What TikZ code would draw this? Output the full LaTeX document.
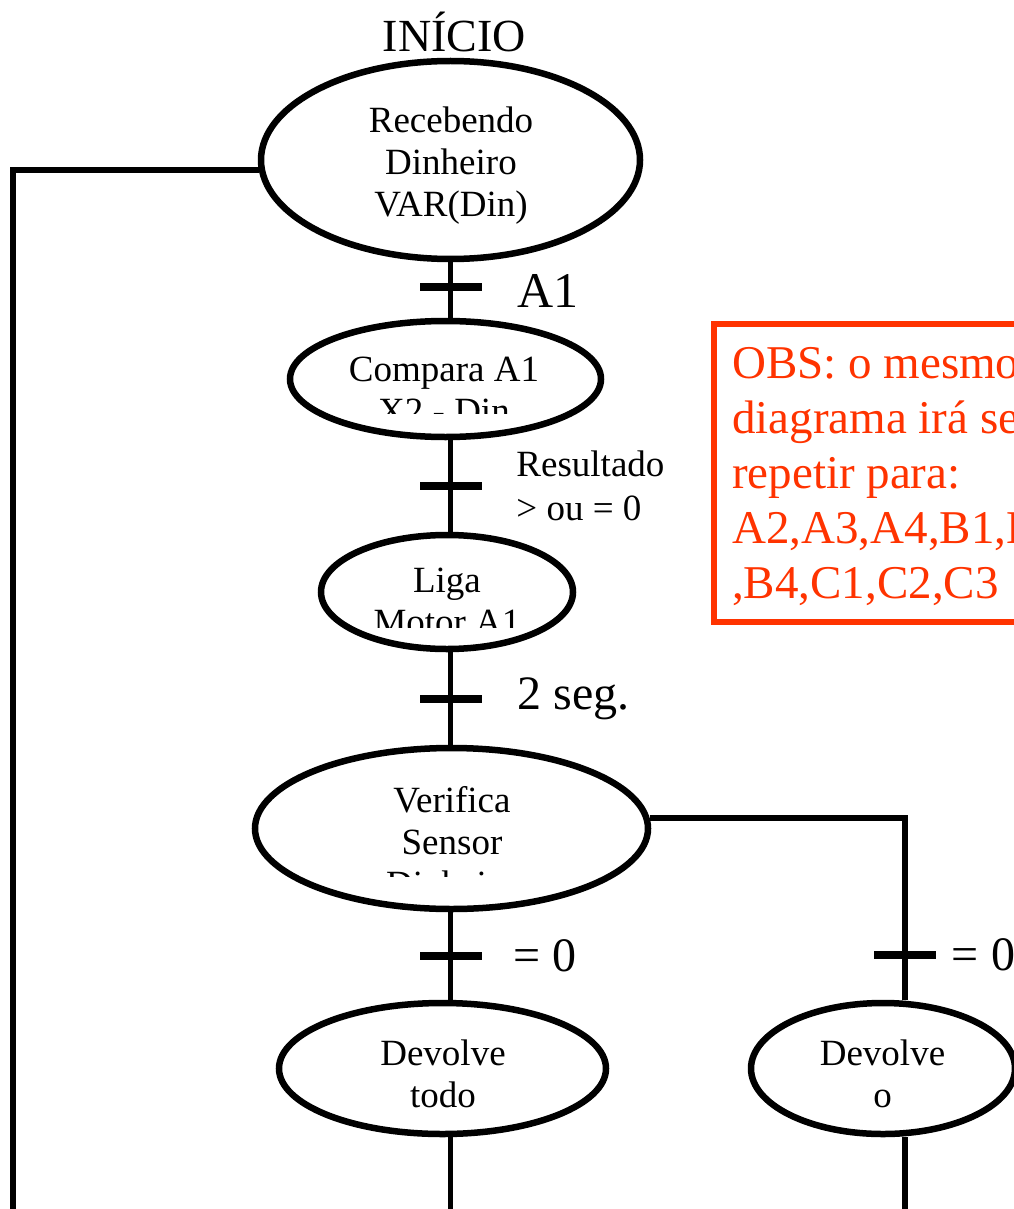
\documentclass[tikz,border=0pt]{standalone}
\usepackage{fontspec}
\setmainfont{Liberation Serif}
\usetikzlibrary{positioning,shapes.geometric}
\definecolor{obsred}{RGB}{255,51,0}

\begin{document}
\begin{tikzpicture}[
  x=1pt, y=-1pt,
  estep/.style={draw, ellipse, line width=6.5pt, inner sep=0pt},
  etext/.style={align=center, inner sep=0pt, font=\fontsize{37}{42}\selectfont},
  lbl/.style={inner sep=0pt, font=\fontsize{48}{55}\selectfont},
  slbl/.style={align=left, inner sep=0pt, font=\fontsize{37}{44}\selectfont},
  bar/.style={fill, rectangle, minimum width=62pt, minimum height=8pt, inner sep=0pt},
  conn/.style={line width=5.5pt},
  obsbox/.style={draw=obsred, line width=6pt, rectangle, inner sep=0pt},
  obstext/.style={text=obsred, align=left, inner sep=0pt, font=\fontsize{47}{55}\selectfont}
]
\useasboundingbox (0,0) rectangle (1013,1209);

% --- steps ---
\node[estep, minimum width=379pt, minimum height=198pt] (e1) at (450.5,160) {};
\node[estep, minimum width=311pt, minimum height=116pt] (e2) at (445.5,379) {};
\node[estep, minimum width=252pt, minimum height=114pt] (e3) at (447,592) {};
\node[estep, minimum width=393pt, minimum height=161pt] (e4) at (451.5,828.5) {};
\node[estep, minimum width=327pt, minimum height=131pt] (e5) at (442.5,1068.5) {};
\node[estep, minimum width=264pt, minimum height=131pt] (e6) at (883,1068.5) {};

\node[inner sep=0pt, font=\fontsize{46}{50}\selectfont, above=6pt of e1, xshift=4pt] (title) {INÍCIO};

% step texts (some are cut off by the shape)
\node[etext, anchor=north] (t1) at (451,107) {Recebendo\\Dinheiro\\VAR(Din)};
\begin{scope}
  \clip (280,340) rectangle (620,413);
  \node[etext, anchor=north] (t2) at (444,357) {Compara A1\\X2 - Din};
\end{scope}
\begin{scope}
  \clip (310,550) rectangle (590,627);
  \node[etext, anchor=north] (t3) at (447,568) {Liga\\Motor A1};
\end{scope}
\begin{scope}
  \clip (250,760) rectangle (660,876);
  \node[etext, anchor=north] (t4) at (452,786.5) {Verifica\\Sensor\\Dinheiro};
\end{scope}
\node[etext, anchor=north] (t5) at (443,1040) {Devolve\\todo};
\node[etext, anchor=north] (t6) at (882.5,1039.5) {Devolve\\o};

% --- transitions ---
\draw[conn] (e1.south) -- node[bar, pos=0.45] (b1) {} (e1.south |- e2.north);
\node[lbl, font=\fontsize{50}{55}\selectfont, right=33pt of b1, yshift=-4pt] {A1};

\draw[conn] (e2.south -| e1.south) -- node[bar] (b2) {} (e1.south |- e3.north);
\node[slbl, right=32pt of b2] {Resultado\\> ou = 0};

\draw[conn] (e3.south -| e1.south) -- node[bar] (b3) {} (e1.south |- e4.north);
\node[lbl, right=33pt of b3] {2 seg.};

\draw[conn] (e4.south -| e1.south) -- node[bar] (b4) {} (e1.south |- e5.north);
\node[lbl, right=29pt of b4] {= 0};

\draw[conn] (e4.3) -| node[bar, pos=0.876] (b5) {} ([xshift=22pt]e6.north);
\node[lbl, right=13pt of b5] {= 0};

% --- way out and way back ---
\coordinate (back) at (13,1215);
\draw[conn] (e1.183) -| (back);
\draw[conn] (e5.south -| e1.south) -- (e1.south |- back);
\draw[conn] ([xshift=22pt]e6.south) -- ([xshift=22pt]e6.south |- back);

% --- note ---
\node[obsbox, minimum width=400pt, minimum height=298pt, anchor=north west] (obs) at (711,321) {};
\node[obstext, anchor=north west] (obstxt) at (732,347) {OBS: o mesmo\\diagrama irá se\\repetir para:\\A2,A3,A4,B1,B2,B3\\,B4,C1,C2,C3};

\end{tikzpicture}
\end{document}
